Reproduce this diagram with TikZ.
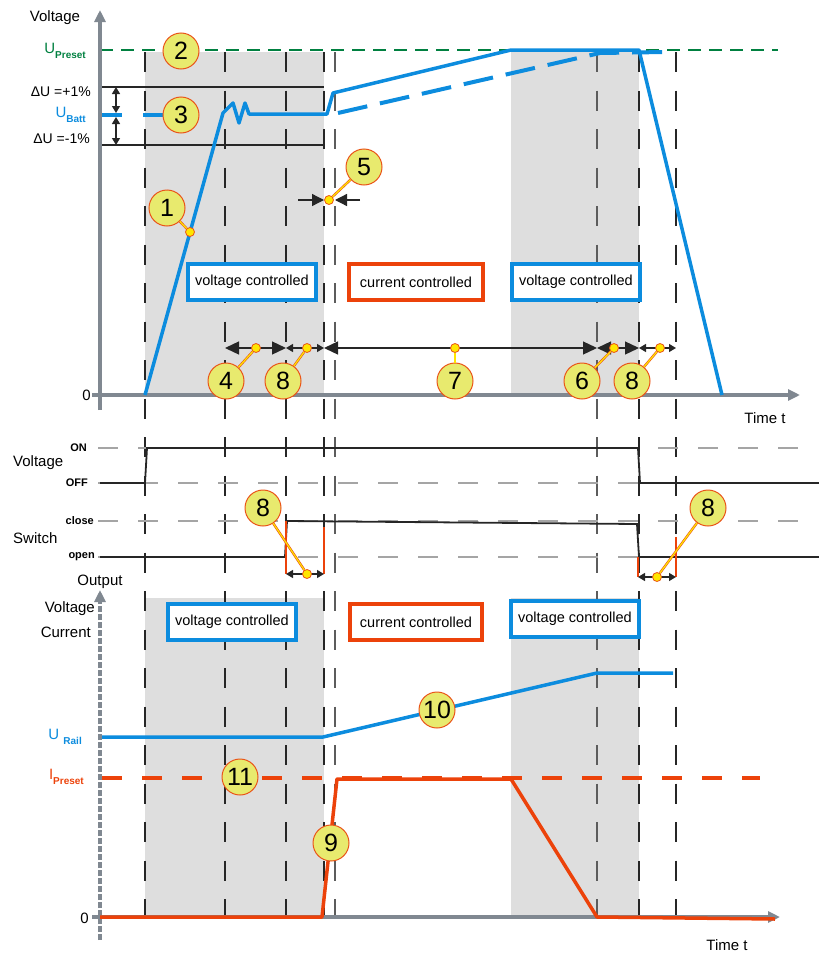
\documentclass[tikz,border=0pt]{standalone}
\usepackage{fontspec}
\setmainfont{Liberation Sans}
\usetikzlibrary{arrows.meta}

\definecolor{ublue}{RGB}{12,140,222}
\definecolor{iorange}{RGB}{236,66,10}
\definecolor{ugreen}{RGB}{0,128,64}
\definecolor{phasegray}{RGB}{222,222,222}
\definecolor{axisgray}{RGB}{128,136,145}
\definecolor{refgray}{RGB}{165,165,165}
\definecolor{sig}{RGB}{38,38,38}
\definecolor{bubblefill}{RGB}{232,234,110}
\definecolor{bubbleline}{RGB}{234,84,24}
\definecolor{pinfill}{RGB}{255,230,0}

\newcommand{\lowtext}[1]{\raisebox{-0.55ex}{\fontsize{10}{10}\selectfont\bfseries #1}}

\begin{document}
\begin{tikzpicture}[
       x=1pt, y=-1pt,
       axis/.style={draw=axisgray, line width=3.5pt, -{Triangle[length=12pt,width=11pt]}},
       marker/.style={draw=sig, line width=2pt, dash pattern=on 20pt off 18.5pt},
       thinmarker/.style={draw=sig!75, line width=1.2pt, dash pattern=on 20pt off 18.5pt},
       refline/.style={draw=refgray, line width=1.5pt, dash pattern=on 20pt off 20pt},
       signal/.style={draw=sig, line width=1.8pt},
       mode/.style={draw, line width=4pt, fill=white, minimum width=128pt,
         minimum height=36pt, inner sep=0pt, font=\fontsize{14.5}{14.5}\selectfont},
       bubble/.style={circle, draw=bubbleline, fill=bubblefill, line width=1pt,
         minimum size=36pt, inner sep=0pt, font=\fontsize{25}{25}\selectfont},
       pin/.style={circle, draw=bubbleline, fill=pinfill, line width=0.8pt,
         minimum size=9pt, inner sep=0pt},
       leader/.style={draw=bubbleline, double=pinfill, double distance=1.2pt, line width=0.6pt},
       span/.style={draw=sig, line width=1.3pt,
         {Triangle[length=14pt,width=13pt]}-{Triangle[length=14pt,width=13pt]}},
       shortspan/.style={draw=sig, line width=1.3pt,
         {Triangle[length=7pt,width=8pt]}-{Triangle[length=7pt,width=8pt]}},
       lbl/.style={font=\fontsize{15}{15}\selectfont, inner sep=0pt},
       lvl/.style={font=\fontsize{11}{11}\selectfont\bfseries, inner sep=0pt, anchor=east}
     ]
       \useasboundingbox (0,0) rectangle (819,953);

       % phases
       \fill[phasegray] (145,52) rectangle (324,395);
       \fill[phasegray] (511,52) rectangle (639,395);
       \fill[phasegray] (145,598) rectangle (324,917);
       \fill[phasegray] (511,598) rectangle (639,917);

       \foreach \x in {145,225,286,324,639,676}
         \draw[marker] (\x,52) -- (\x,917);
       \foreach \x in {335,597}
         \draw[thinmarker] (\x,52) -- (\x,917);

       \foreach \y in {448,483,521,557}
         \draw[refline] (98,\y) -- (815,\y);

       % levels of the upper chart
       \draw[ugreen, line width=2pt, dash pattern=on 13pt off 8pt] (100,50) -- (778,50);
       \draw[sig, line width=1.5pt] (100,87) -- (324,87);
       \draw[sig, line width=1.5pt] (100,145) -- (324,145);
       \draw[ublue, line width=4pt, dash pattern=on 20pt off 21pt] (102,115) -- (199,115);
       \draw[iorange, line width=4pt, dash pattern=on 20pt off 20pt] (102,778) -- (760,778);

       % axes
       \draw[axis] (100,410) -- (100,10);
       \draw[axis] (92,395) -- (800,395);
       \draw[axis, dash pattern=on 6pt off 2pt] (100,940) -- (100,590);
       \draw[axis] (92,917) -- (780,917);

       % output voltage, upper chart
       \draw[ublue, line width=3.5pt, line join=round] (145,395) -- (223,113) -- (233,103)
         -- (239,123) -- (245,103) -- (249,114) -- (327,114) -- (333,93) -- (511,50)
         -- (639,50) -- (722,395);
       \draw[ublue, line width=4pt, dash pattern=on 30pt off 13pt] (338,113) -- (600,53) -- (665,52);

       % voltage and switch states
       \draw[signal] (100,483) -- (145,483) -- (147,448) -- (638,448) -- (640,483) -- (819,483);
       \draw[signal] (100,557) -- (285,557) -- (287,521) -- (637,524) -- (639,557) -- (819,557);
       \draw[iorange, line width=1.8pt] (286,521) -- (286,574);
       \draw[iorange, line width=1.8pt] (324,527) -- (324,574);
       \draw[iorange, line width=1.8pt] (638,557) -- (638,577);
       \draw[iorange, line width=1.8pt] (676,537) -- (676,577);

       % lower chart
       \draw[ublue, line width=3.5pt, line join=round] (102,737) -- (323,737) -- (597,673) -- (673,673);
       \draw[iorange, line width=3.5pt, line join=round] (100,917) -- (322,917) -- (337,779)
         -- (511,779) -- (597,917) -- (775,919);

       % modes
       \node[mode, draw=ublue] (m1) at (252,282) {voltage controlled};
       \node[mode, draw=iorange, minimum width=134pt] (m2) at (416,282) {current controlled};
       \node[mode, draw=ublue] (m3) at (576,282) {voltage controlled};
       \node[mode, draw=ublue] (m4) at (232,622) {voltage controlled};
       \node[mode, draw=iorange, minimum width=132pt] (m5) at (416,622) {current controlled};
       \node[mode, draw=ublue] (m6) at (575,619) {voltage controlled};

       % texts
       \node[lbl] (ytop) at (55,18) {Voltage};
       \node[lbl, anchor=east, text=ugreen] (upre) at (86,51) {U\lowtext{Preset}};
       \node[lbl, anchor=east, font=\fontsize{14}{14}\selectfont] (dup) at (91,92) {ΔU =+1\%};
       \node[lbl, anchor=east, text=ublue] (ubatt) at (86,115) {U\lowtext{Batt}};
       \node[lbl, anchor=east, font=\fontsize{14}{14}\selectfont] (ddown) at (90,139) {ΔU =-1\%};
       \node[lbl, anchor=east] (zero1) at (91,395) {0};
       \node[lbl] (time1) at (765,418) {Time t};
       \node[lbl, anchor=west] (volt) at (13,463) {Voltage};
       \node[lbl, anchor=west] (swit) at (13,538) {Switch};
       \node[lvl] (on) at (87,448) {ON};
       \node[lvl] (off) at (88,483) {OFF};
       \node[lvl] (close) at (94,521) {close};
       \node[lvl] (open) at (95,557) {open};
       \node[lbl] (outp) at (100,582) {Output};
       \node[lbl, anchor=east] (ovolt) at (95,609) {Voltage};
       \node[lbl, anchor=east] (ocurr) at (91,632) {Current};
       \node[lbl, anchor=east, text=ublue] (urail) at (82,737) {U \lowtext{Rail}};
       \node[lbl, anchor=east, text=iorange] (ipre) at (84,777) {I\lowtext{Preset}};
       \node[lbl, anchor=east] (zero2) at (89,918) {0};
       \node[lbl] (time2) at (727,945) {Time t};

       % spans
       \coordinate (s1) at (225,348);
       \coordinate (s2) at (286,348);
       \coordinate (s3) at (324,348);
       \coordinate (s4) at (597,348);
       \coordinate (s5) at (639,348);
       \coordinate (s6) at (676,348);
       \draw[span] (s1) -- (s2);
       \draw[shortspan] (s2) -- (s3);
       \draw[span] (s3) -- (s4);
       \draw[span] (s4) -- (s5);
       \draw[shortspan] (s5) -- (s6);
       \draw[{Triangle[length=7pt,width=8pt]}-{Triangle[length=7pt,width=8pt]}, sig, line width=1.3pt]
         (116,87) -- (116,113);
       \draw[{Triangle[length=7pt,width=8pt]}-{Triangle[length=7pt,width=8pt]}, sig, line width=1.3pt]
         (116,117) -- (116,145);
       \coordinate (g1) at (298,200);
       \coordinate (g2) at (324,200);
       \coordinate (g3) at (335,200);
       \coordinate (g4) at (360,200);
       \draw[-{Triangle[length=12pt,width=12pt]}, sig, line width=1.3pt] (g1) -- (g2);
       \draw[-{Triangle[length=12pt,width=12pt]}, sig, line width=1.3pt] (g4) -- (g3);
       \coordinate (k1) at (286,574);
       \coordinate (k2) at (324,574);
       \coordinate (k3) at (638,577);
       \coordinate (k4) at (676,577);
       \draw[shortspan] (k1) -- (k2);
       \draw[shortspan] (k3) -- (k4);

       % callouts
       \node[pin] (p1) at (190,232) {};
       \node[pin] (p4) at (256,348) {};
       \node[pin] (p5) at (329,200) {};
       \node[pin] (p6) at (614,348) {};
       \node[pin] (p7) at (455,348) {};
       \node[pin] (p8a) at (307,348) {};
       \node[pin] (p8b) at (660,348) {};
       \node[pin] (p8c) at (307,574) {};
       \node[pin] (p8d) at (657,577) {};

       \node[bubble] (b1) at (167,208) {1};
       \node[bubble] (b2) at (181,51) {2};
       \node[bubble] (b3) at (181,115) {3};
       \node[bubble] (b4) at (226,381) {4};
       \node[bubble] (b5) at (364,167) {5};
       \node[bubble] (b6) at (582,381) {6};
       \node[bubble] (b7) at (455,381) {7};
       \node[bubble] (b8a) at (283,381) {8};
       \node[bubble] (b8b) at (632,381) {8};
       \node[bubble] (b8c) at (263,508) {8};
       \node[bubble] (b8d) at (708,508) {8};
       \node[bubble] (b9) at (331,843) {9};
       \node[bubble] (b10) at (437,710) {10};
       \node[bubble] (b11) at (240,777) {11};

       \draw[leader] (p1) -- (b1);
       \draw[leader] (p4) -- (b4);
       \draw[leader] (p5) -- (b5);
       \draw[leader] (p6) -- (b6);
       \draw[leader] (p7) -- (b7);
       \draw[leader] (p8a) -- (b8a);
       \draw[leader] (p8b) -- (b8b);
       \draw[leader] (p8c) -- (b8c);
       \draw[leader] (p8d) -- (b8d);

\end{tikzpicture}
\end{document}
